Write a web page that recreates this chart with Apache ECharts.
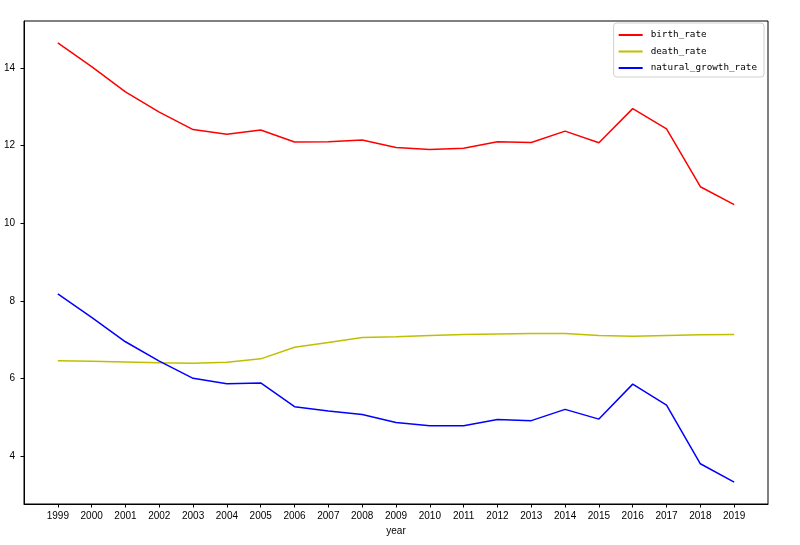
<!DOCTYPE html>
<html><head><meta charset="utf-8">
<script src="https://cdn.jsdelivr.net/npm/echarts@6/dist/echarts.min.js"></script>
<style>html,body{margin:0;padding:0;background:#fff}#c{width:800px;height:545px}</style>
</head><body><div id="c"></div>
<script>
const years = [1999,2000,2001,2002,2003,2004,2005,2006,2007,2008,2009,2010,2011,2012,2013,2014,2015,2016,2017,2018,2019];
const birthRate = [14.64,14.03,13.38,12.86,12.41,12.29,12.40,12.09,12.10,12.14,11.95,11.90,11.93,12.10,12.08,12.37,12.07,12.95,12.43,10.94,10.48];
const deathRate = [6.46,6.45,6.43,6.41,6.40,6.42,6.51,6.81,6.93,7.06,7.08,7.11,7.14,7.15,7.16,7.16,7.11,7.09,7.11,7.13,7.14];
const naturalGrowthRate = [8.18,7.58,6.95,6.45,6.01,5.87,5.89,5.28,5.17,5.08,4.87,4.79,4.79,4.95,4.92,5.21,4.96,5.86,5.32,3.81,3.34];
const yTicks = [4,6,8,10,12,14];

const pair = (arr) => years.map((y,i)=>[y,arr[i]]);
const chart = echarts.init(document.getElementById('c'));
const mk = (name, data, color) => ({
  name, type:'line', data: pair(data), symbol:'none', smooth:false,
  lineStyle:{color, width:1.5}, itemStyle:{color}, animation:false
});
chart.setOption({
  animation:false,
  grid:{left:24, right:32, top:21, bottom:41, containLabel:false},
  legend:{
    orient:'vertical', right:36, top:23,
    backgroundColor:'#fff', borderColor:'#d0d0d0', borderWidth:1, borderRadius:3,
    padding:[6,7,3,5], itemGap:4.5, itemWidth:24, itemHeight:2, icon:'rect',
    textStyle:{fontFamily:'DejaVu Sans Mono', fontSize:9.3, lineHeight:12, color:'#000', padding:[0,0,0,3]},
    data:['birth_rate','death_rate','natural_growth_rate']
  },
  xAxis:{
    type:'value', min:1998, max:2020, interval:1,
    name:'year', nameLocation:'middle', nameGap:20,
    nameTextStyle:{fontFamily:'Liberation Sans', fontSize:10, color:'#000'},
    axisLine:{show:true, onZero:false, lineStyle:{color:'#000', width:1}},
    axisTick:{show:true, length:3.5, lineStyle:{color:'#000'},
      customValues: years},
    axisLabel:{fontFamily:'Liberation Sans', fontSize:10, color:'#000', margin:7,
      customValues: years, formatter: v => String(v)},
    splitLine:{show:false}
  },
  yAxis:{
    type:'value', min:2.775, max:15.205,
    axisLine:{show:true, lineStyle:{color:'#000', width:1}},
    axisTick:{show:true, length:3.5, lineStyle:{color:'#000'}, customValues: yTicks},
    axisLabel:{fontFamily:'Liberation Sans', fontSize:10, color:'#000', margin:9, customValues: yTicks},
    splitLine:{show:false}
  },
  graphic:[{type:'rect', shape:{x:24, y:21, width:744, height:483}, style:{fill:'none', stroke:'#000', lineWidth:1}, silent:true, z:100}],
  series:[
    mk('birth_rate', birthRate, '#ff0000'),
    mk('death_rate', deathRate, '#bfbf00'),
    mk('natural_growth_rate', naturalGrowthRate, '#0000ff')
  ]
});
</script></body></html>
